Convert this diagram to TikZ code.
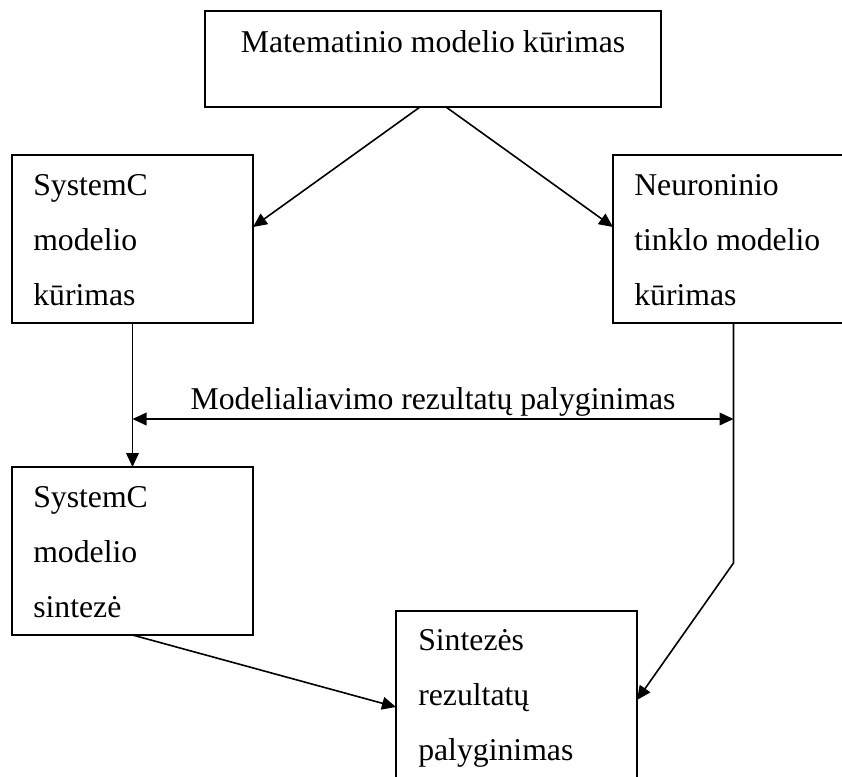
\documentclass[tikz,border=0pt]{standalone}
\usepackage{fontspec}
\setmainfont{Liberation Serif}
\usetikzlibrary{arrows.meta}
\begin{document}
\begin{tikzpicture}[x=0.75pt,y=-0.75pt,
  box/.style={draw, line width=1.5pt, minimum width=180.75pt, minimum height=126pt, inner sep=0pt, outer sep=0pt},
  txt/.style={font=\fontsize{23.8}{28}\selectfont, inner sep=0pt, anchor=base west},
  arr/.style={line width=1.2pt, -{Triangle[length=10.5pt,width=9.5pt]}},
  darr/.style={line width=1.2pt, {Triangle[length=10.5pt,width=9.5pt]}-{Triangle[length=10.5pt,width=9.5pt]}},
  ln/.style={line width=1.2pt}]
\clip (0,0) rectangle (842,776);
% boxes
\node[box, minimum width=342pt, minimum height=72pt] (top) at (433,59) {};
\node[box] (sys1) at (132.5,239) {};
\node[box] (neu) at (733.5,239) {};
\node[box] (sys2) at (132.5,551) {};
\node[box] (res) at (516.5,695) {};
% texts
\node[txt, anchor=base] (ttop) at (433,52) {Matematinio modelio kūrimas};
\node[txt] (s1a) at (33,195) {SystemC};
\node[txt] (s1b) at (33,250) {modelio};
\node[txt] (s1c) at (33,305) {kūrimas};
\node[txt] (n1a) at (634,195) {Neuroninio};
\node[txt] (n1b) at (634,250) {tinklo modelio};
\node[txt] (n1c) at (634,305) {kūrimas};
\node[txt] (s2a) at (33,507) {SystemC};
\node[txt] (s2b) at (33,562) {modelio};
\node[txt] (s2c) at (33,617) {sintezė};
\node[txt] (ra) at (418,650) {Sintezės};
\node[txt] (rb) at (418,705) {rezultatų};
\node[txt] (rc) at (418,760) {palyginimas};
\node[txt, anchor=base] (lbl) at (433,409) {Modelialiavimo rezultatų palyginimas};
% connectors
\draw[arr] (top.south -| 420,0) -- (sys1.east |- 0,227);
\draw[arr] (top.south -| 446,0) -- (neu.west |- 0,227);
\draw[arr] (sys1.south) -- (sys2.north);
\coordinate (cl) at (sys1.south |- 0,419);
\coordinate (cr) at (neu.south |- 0,419);
\draw[darr] (cl) -- (cr);
\coordinate (bend) at (neu.south |- 0,563);
\draw[arr] (neu.south) -- (bend) -- (res.east |- 0,700);
\draw[arr] (sys2.south) -- (res.west |- 0,707);
\end{tikzpicture}
\end{document}
